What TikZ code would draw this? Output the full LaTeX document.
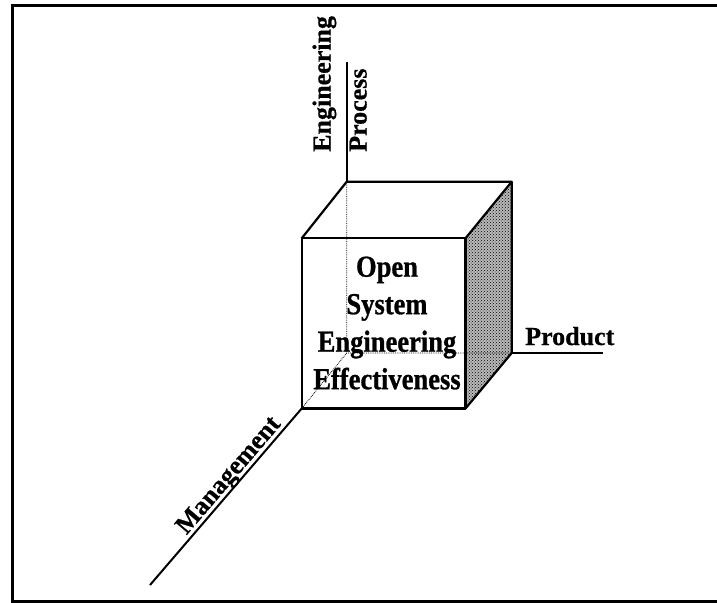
\documentclass[tikz,border=0pt]{standalone}
\usepackage{fontspec}
\setmainfont{Liberation Serif}
\newfontfamily\heavyfont{Liberation Serif Bold}[FakeBold=0.6]
\newfontfamily\condfont{Liberation Serif Bold}[FakeStretch=0.87, FakeBold=0.9]
\usetikzlibrary{patterns}
\begin{document}
\begin{tikzpicture}[x=1pt,y=-1pt,
  edge/.style={line width=2.2pt, line join=round},
  hid/.style={line width=0.8pt, densely dotted},
  axisline/.style={line width=2pt},
  lbl/.style={font=\heavyfont\fontsize{26}{36}\selectfont, inner sep=0pt},
  cubetext/.style={font=\condfont\fontsize{30.5}{37.5}\selectfont, inner sep=0pt, align=center}]
\useasboundingbox (0,0) rectangle (717,602);
\draw[line width=3pt] (717,6) -- (12.5,6) -- (12.5,601) -- (717,601);
% cube corners
\coordinate (F1) at (301.7,238.3);
\coordinate (F2) at (465.5,238.3);
\coordinate (F3) at (465.5,408.5);
\coordinate (F4) at (301.7,408.5);
\coordinate (B1) at (346.7,181.7);
\coordinate (B2) at (511.7,181.7);
\coordinate (B3) at (511.7,353);
\coordinate (B4) at (346.7,353);
% axis ends
\coordinate (vend) at (346.7,62);
\coordinate (pend) at (603,353);
\coordinate (mend) at (150,585);
% shaded side
\fill[gray!55] (F2) -- (B2) -- (B3) -- (F3) -- cycle;
\fill[pattern=crosshatch dots, pattern color=black] (F2) -- (B2) -- (B3) -- (F3) -- cycle;
% hidden edges
\draw[hid] (B1) -- (B4) -- (B3) (B4) -- (F4);
% axes
\draw[axisline] (B1) -- (vend);
\draw[axisline] (B3) -- (pend);
\draw[axisline] (F4) -- (mend);
% visible edges
\draw[edge] (F1) -- (F2) -- (F3) -- (F4) -- cycle;
\draw[edge] (F1) -- (B1) -- (B2) -- (F2);
\draw[edge] (B2) -- (B3) -- (F3);
% labels
\node[cubetext] (core) at (387,323) {Open\\System\\Engineering\\Effectiveness};
\node[lbl, anchor=base west] (product) at (525,345) {Product};
\node[lbl, align=left, rotate=90, anchor=south west] (engproc) at (367,152) {Engineering\\Process};
\node[lbl, anchor=base, rotate=49.4] (mgmt) at (234,480) {Management};
\end{tikzpicture}
\end{document}
